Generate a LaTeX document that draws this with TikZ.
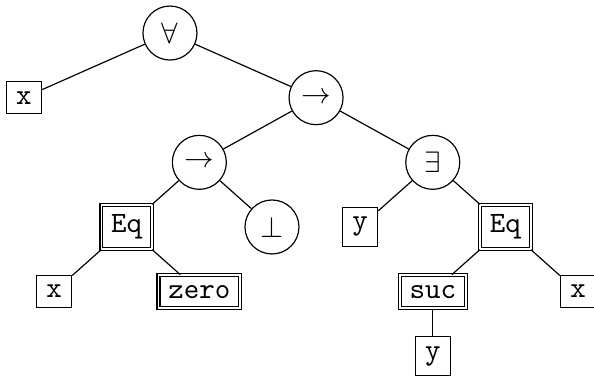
\documentclass[tikz,border=0pt]{standalone}
\usetikzlibrary{positioning}

\begin{document}
\begin{tikzpicture}[node distance=0.77cm and 0.865cm, on grid,
    opnode/.style={draw, circle, minimum size=18.3pt, inner sep=1pt},
    varbox/.style={draw, rectangle, font=\ttfamily},
    conbox/.style={draw, rectangle, double, font=\ttfamily}]
    \useasboundingbox (-57.6pt,11.2pt) rectangle (143.7pt,-116.3pt);
    % quantifiers and connectives
    \node[opnode] (forall) {$\forall$};
    \node[varbox, below left=0.77cm and 1.74cm of forall] (x1) {x};
    \node[opnode, below right=0.77cm and 1.74cm of forall] (imp1) {$\rightarrow$};
    \node[opnode, below left=0.77cm and 1.39cm of imp1] (imp2) {$\rightarrow$};
    \node[opnode, below right=0.77cm and 1.39cm of imp1] (exists) {$\exists$};
    \node[conbox, below left=of imp2] (eq1) {Eq};
    \node[opnode, below right=of imp2] (bot) {$\bot$};
    \node[varbox, below left=of exists] (y1) {y};
    \node[conbox, below right=of exists] (eq2) {Eq};
    % terms
    \node[varbox, below left=of eq1] (x2) {x};
    \node[conbox, below right=of eq1] (zero) {zero};
    \node[conbox, below left=of eq2] (suc) {suc};
    \node[varbox, below right=of eq2] (x3) {x};
    \node[varbox, below=of suc] (y2) {y};
    \foreach \a/\b in {forall/x1, forall/imp1, imp1/imp2, imp1/exists,
        imp2/eq1, imp2/bot, exists/y1, exists/eq2, eq1/x2, eq1/zero,
        eq2/suc, eq2/x3, suc/y2}
      \draw (\a) -- (\b);
\end{tikzpicture}
\end{document}
